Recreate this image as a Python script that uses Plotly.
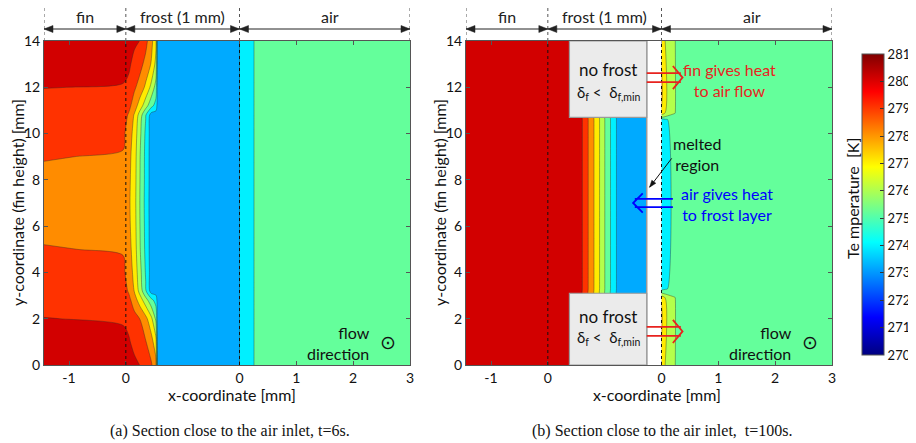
import plotly.graph_objects as go

# ---------------- data ----------------
# Temperature bands (lower bound of each filled contour band) and their fill colours
levels_lo = [270, 271, 272, 273, 274, 275, 276, 277, 278, 279, 280]
band_colors = ["rgb(0,0,143)", "rgb(0,0,220)", "rgb(0,58,255)", "rgb(0,170,255)",
               "rgb(0,240,255)", "rgb(100,255,155)", "rgb(180,255,75)", "rgb(255,235,0)",
               "rgb(255,140,0)", "rgb(255,50,0)", "rgb(210,0,0)"]
cbar_ticks = [270, 271, 272, 273, 274, 275, 276, 277, 278, 279, 280, 281]

# pseudo x-coordinate: fin x -> u = x ; frost depth d (1 mm) -> u = 2d ; air x -> u = 2 + x
x_tickvals = [-1, 0, 2, 3, 4, 5]
x_ticktext = ["-1", "0", "0", "1", "2", "3"]
y_tickvals = [0, 2, 4, 6, 8, 10, 12, 14]
fin_start, frost_start, air_start, air_end = -1.44, 0.0, 2.0, 5.0

# (a) t = 6 s
left_u = [-1.44, -0.05, 0.05, 0.15, 0.25, 0.35, 0.45, 0.53, 0.56, 1.99, 2.01, 2.24, 2.27, 5.0]
left_y = [0, 1, 2, 2.8, 3.2, 4, 5, 6, 7, 8, 9, 10, 10.8, 11.2, 12, 13, 14]
left_T = [
    [280.6, 280.45, 280.4, 280.2, 279.98, 279.55, 279.1, 278.3, 273.5, 273.5, 274.5, 274.5, 275.5, 275.5],
    [280.3, 280.2, 280.1, 279.75, 279.4, 279.05, 278.4, 277.3, 273.5, 273.5, 274.5, 274.5, 275.5, 275.5],
    [280.02, 279.92, 279.75, 279.35, 278.98, 278.3, 277.2, 275.8, 273.5, 273.5, 274.5, 274.5, 275.5, 275.5],
    [279.75, 279.6, 279.3, 278.5, 277.5, 276.4, 275.3, 274.6, 273.5, 273.5, 274.5, 274.5, 275.5, 275.5],
    [279.6, 279.45, 278.9, 277.95, 276.6, 275.1, 273.5, 273.5, 273.5, 273.5, 274.5, 274.5, 275.5, 275.5],
    [279.35, 279.2, 278.6, 277.7, 276.3, 274.9, 273.5, 273.5, 273.5, 273.5, 274.5, 274.5, 275.5, 275.5],
    [279.05, 278.93, 278.4, 277.5, 276.05, 274.75, 273.5, 273.5, 273.5, 273.5, 274.5, 274.5, 275.5, 275.5],
    [278.8, 278.7, 278.25, 277.4, 275.98, 274.7, 273.5, 273.5, 273.5, 273.5, 274.5, 274.5, 275.5, 275.5],
    [278.65, 278.6, 278.2, 277.35, 275.95, 274.65, 273.5, 273.5, 273.5, 273.5, 274.5, 274.5, 275.5, 275.5],
    [278.8, 278.7, 278.25, 277.4, 275.98, 274.7, 273.5, 273.5, 273.5, 273.5, 274.5, 274.5, 275.5, 275.5],
    [279.05, 278.92, 278.35, 277.45, 276.02, 274.7, 273.5, 273.5, 273.5, 273.5, 274.5, 274.5, 275.5, 275.5],
    [279.35, 279.2, 278.6, 277.6, 276.2, 274.8, 273.5, 273.5, 273.5, 273.5, 274.5, 274.5, 275.5, 275.5],
    [279.6, 279.45, 278.9, 277.9, 276.5, 275.05, 273.5, 273.5, 273.5, 273.5, 274.5, 274.5, 275.5, 275.5],
    [279.7, 279.6, 279.3, 278.5, 277.5, 276.4, 275.3, 274.6, 273.5, 273.5, 274.5, 274.5, 275.5, 275.5],
    [280.02, 279.95, 279.8, 279.15, 278.6, 277.8, 276.7, 275.6, 273.5, 273.5, 274.5, 274.5, 275.5, 275.5],
    [280.35, 280.25, 280.15, 279.75, 279.3, 278.7, 277.9, 276.7, 273.5, 273.5, 274.5, 274.5, 275.5, 275.5],
    [280.55, 280.45, 280.4, 280.15, 279.98, 279.3, 278.3, 277.2, 273.5, 273.5, 274.5, 274.5, 275.5, 275.5],
]

# (b) t = 100 s
right_u = [-1.44, -0.05, 0.58, 0.66, 0.76, 0.865, 0.955, 1.05, 1.155, 1.26, 1.74, 2.0, 2.07, 2.24, 2.27, 5.0]
right_y = [0, 2.9, 3.08, 3.3, 10.6, 10.72, 10.9, 14]
right_T = [
    [280.5, 280.5, 280.5, 280.5, 280.5, 280.5, 280.5, 280.5, 280.5, 280.5, 280.5, 277.6, 276.95, 276.05, 275.5, 275.5],
    [280.5, 280.5, 280.5, 280.5, 280.5, 280.5, 280.5, 280.5, 280.5, 280.5, 280.5, 277.6, 276.95, 276.05, 275.5, 275.5],
    [280.5, 280.5, 280.25, 279.5, 278.5, 277.5, 276.5, 275.5, 274.5, 273.5, 273.5, 276.2, 275.9, 275.6, 275.5, 275.5],
    [280.5, 280.5, 280.25, 279.5, 278.5, 277.5, 276.5, 275.5, 274.5, 273.5, 273.5, 274.5, 274.85, 275.5, 275.5, 275.5],
    [280.5, 280.5, 280.25, 279.5, 278.5, 277.5, 276.5, 275.5, 274.5, 273.5, 273.5, 274.5, 274.85, 275.5, 275.5, 275.5],
    [280.5, 280.5, 280.25, 279.5, 278.5, 277.5, 276.5, 275.5, 274.5, 273.5, 273.5, 276.2, 275.9, 275.6, 275.5, 275.5],
    [280.5, 280.5, 280.5, 280.5, 280.5, 280.5, 280.5, 280.5, 280.5, 280.5, 280.5, 277.6, 276.95, 276.05, 275.5, 275.5],
    [280.5, 280.5, 280.5, 280.5, 280.5, 280.5, 280.5, 280.5, 280.5, 280.5, 280.5, 277.6, 276.95, 276.05, 275.5, 275.5],
]
melt_start = 1.74          # left edge of melted (white) region in panel (b)
nofrost_x0 = 0.38          # no-frost boxes
nofrost_top_y0 = 10.7
nofrost_bot_y1 = 3.1

# ---------------- layout helpers ----------------
SANS = "Lato"
SERIF = "Liberation Serif"
OFF = 8                     # page body margin of the html page
W, H = 916 - OFF, 443 - OFF


def px(xp):                 # page pixel x -> paper x
    return (xp - OFF) / W


def py(yp):                 # page pixel y -> paper y
    return 1 - (yp - OFF) / H


LX = [px(44), px(410)]
RX = [px(466), px(832)]
YD = [py(365), py(41)]
SX = 366 / (air_end - fin_start)   # px per unit u
SY = 324 / 14                       # px per mm

contour_scale = [[0, band_colors[0]]] + \
    [[(k - 269) / 12, c] for k, c in zip(levels_lo, band_colors)] + [[1, band_colors[-1]]]
jet_scale = [[0, "rgb(0,0,128)"], [0.125, "rgb(0,0,255)"], [0.375, "rgb(0,255,255)"],
             [0.625, "rgb(255,255,0)"], [0.875, "rgb(255,0,0)"], [1, "rgb(128,0,0)"]]

fig = go.Figure()
common = dict(contours=dict(start=270, end=281, size=1, coloring="fill"),
              colorscale=contour_scale, showscale=False, hoverinfo="skip",
              line=dict(width=0.6, color="rgba(40,40,40,0.65)", smoothing=0.8))
fig.add_trace(go.Contour(x=left_u, y=left_y, z=left_T, xaxis="x", yaxis="y", **common))
fig.add_trace(go.Contour(x=right_u, y=right_y, z=right_T, xaxis="x2", yaxis="y2", **common))

# colorbar (continuous jet)
fig.add_trace(go.Scatter(
    x=[None, None], y=[None, None], mode="markers", xaxis="x2", yaxis="y2",
    showlegend=False, hoverinfo="skip",
    marker=dict(color=[cbar_ticks[0], cbar_ticks[-1]], cmin=cbar_ticks[0], cmax=cbar_ticks[-1],
                colorscale=jet_scale, showscale=True,
                colorbar=dict(x=px(862), xanchor="left", y=py(204.5), yanchor="middle",
                              len=301 / H, lenmode="fraction", thickness=22,
                              outlinewidth=1, outlinecolor="#555", borderwidth=0,
                              tickmode="array", tickvals=cbar_ticks, ticks="inside",
                              ticklen=4, tickcolor="#333", xpad=0, ypad=0,
                              tickfont=dict(family=SANS, size=13, color="#111")))))

axis_common = dict(showgrid=False, zeroline=False, showline=True, linecolor="#555",
                   linewidth=1, mirror="ticks", ticks="inside", ticklen=4,
                   tickcolor="#555", tickfont=dict(family=SANS, size=14, color="#111"),
                   fixedrange=True, automargin=False)
fig.update_layout(
    width=W, height=H, margin=dict(l=0, r=0, t=0, b=0, autoexpand=False),
    paper_bgcolor="white", plot_bgcolor="white", showlegend=False,
    xaxis=dict(domain=LX, range=[fin_start, air_end], anchor="y", tickmode="array",
               tickvals=x_tickvals, ticktext=x_ticktext, **axis_common),
    yaxis=dict(domain=YD, range=[0, 14], anchor="x", tickmode="array",
               tickvals=y_tickvals, **axis_common),
    xaxis2=dict(domain=RX, range=[fin_start, air_end], anchor="y2", tickmode="array",
                tickvals=x_tickvals, ticktext=x_ticktext, **axis_common),
    yaxis2=dict(domain=YD, range=[0, 14], anchor="x2", tickmode="array",
                tickvals=y_tickvals, **axis_common),
)

shapes = []
ann = []
boundaries = [fin_start, frost_start, air_start, air_end]


def label(**kw):
    d = dict(showarrow=False, xanchor="center", yanchor="middle")
    d.update(kw)
    return d


def head(xt, yt, dx, dy, L, hw, sx, sy):
    """filled triangular arrow head, tip at (xt, yt), direction (dx, dy) in screen px (y up)."""
    n = (dx * dx + dy * dy) ** 0.5
    dx, dy = dx / n, dy / n
    bx, by = -dx * L, -dy * L
    p1 = (xt + (bx - dy * hw) / sx, yt + (by + dx * hw) / sy)
    p2 = (xt + (bx + dy * hw) / sx, yt + (by - dx * hw) / sy)
    return f"M {xt},{yt} L {p1[0]},{p1[1]} L {p2[0]},{p2[1]} Z"


# panel (b) melted region and no-frost boxes
shapes.append(dict(type="rect", xref="x2", yref="y2", x0=melt_start, x1=air_start, y0=0, y1=14,
                   fillcolor="white", line=dict(width=0)))
shapes.append(dict(type="line", xref="x2", yref="y2", x0=melt_start, x1=melt_start, y0=0, y1=14,
                   line=dict(color="#9a9a9a", width=1.5)))
for (y0, y1) in [(nofrost_top_y0, 14), (0, nofrost_bot_y1)]:
    shapes.append(dict(type="rect", xref="x2", yref="y2", x0=nofrost_x0, x1=melt_start,
                       y0=y0, y1=y1, fillcolor="#ebebeb", line=dict(color="#9a9a9a", width=1.2)))

arrow_y = py(29)
for xa, ya in [("x", "y"), ("x2", "y2")]:
    # dotted separators above panel
    for b in boundaries:
        shapes.append(dict(type="line", xref=xa, yref="paper", x0=b, x1=b, y0=YD[1], y1=1.0,
                           line=dict(color="#555", width=1, dash="dot")))
    for b in [frost_start, air_start]:
        shapes.append(dict(type="line", xref=xa, yref=ya, x0=b, x1=b, y0=0, y1=14,
                           line=dict(color="#111", width=1, dash="dot")))
    # double arrows and region labels
    for a, b, lab, cx in [(fin_start, frost_start, "fin", -0.72),
                          (frost_start, air_start, "frost (1 mm)", 1.0),
                          (air_start, air_end, "air", 3.6)]:
        shapes.append(dict(type="line", xref=xa, yref="paper", x0=a, x1=b, y0=arrow_y, y1=arrow_y,
                           line=dict(color="#222", width=1)))
        for tip, d in [(a, -1), (b, 1)]:
            shapes.append(dict(type="path", xref=xa, yref="paper",
                               path=head(tip, arrow_y, d, 0, 9, 3.5, SX, H),
                               fillcolor="#222", line=dict(color="#222", width=0.5)))
        ann.append(label(xref=xa, yref="paper", x=cx, y=py(16), text=lab,
                         font=dict(family=SANS, size=16, color="#222")))
    # flow direction
    ann.append(label(xref=xa, yref=ya, x=4.34, y=0.95, xanchor="right", text="flow<br>direction",
                     align="right", font=dict(family=SANS, size=16, color="#111")))
    ann.append(label(xref=xa, yref=ya, x=4.62, y=1.0, text="⊙",
                     font=dict(family="DejaVu Sans", size=19, color="#111")))


def chevron_arrow(tail, tip, ymid, half_gap, head_len, head_half):
    d = 1 if tip > tail else -1
    back = tip - d * head_len
    end = tip - d * 0.03
    return (f"M {tail},{ymid + half_gap} L {end},{ymid + half_gap} "
            f"M {tail},{ymid - half_gap} L {end},{ymid - half_gap} "
            f"M {back},{ymid + head_half} L {tip},{ymid} L {back},{ymid - head_half}")


for ym in [12.42, 1.45]:
    shapes.append(dict(type="path", xref="x2", yref="y2",
                       path=chevron_arrow(melt_start, 2.37, ym, 0.195, 0.17, 0.5),
                       line=dict(color="#e8231f", width=1.8)))
shapes.append(dict(type="path", xref="x2", yref="y2",
                   path=chevron_arrow(2.2, 1.5, 7.0, 0.18, 0.17, 0.42),
                   line=dict(color="#0000ff", width=1.8)))

# "melted region" pointer
m_tail, m_tip = (2.18, 8.93), (1.79, 7.68)
shapes.append(dict(type="line", xref="x2", yref="y2", x0=m_tail[0], y0=m_tail[1],
                   x1=m_tip[0], y1=m_tip[1], line=dict(color="#111", width=1)))
shapes.append(dict(type="path", xref="x2", yref="y2",
                   path=head(m_tip[0], m_tip[1], (m_tip[0] - m_tail[0]) * SX,
                             (m_tip[1] - m_tail[1]) * SY, 7, 2.5, SX, SY),
                   fillcolor="#111", line=dict(color="#111", width=0.5)))

box_cx = (nofrost_x0 + melt_start) / 2
for yt, yd in [(12.78, 11.75), (2.11, 1.15)]:
    ann.append(label(xref="x2", yref="y2", x=box_cx, y=yt, text="no frost",
                     font=dict(family=SANS, size=17, color="#111")))
    ann.append(label(xref="x2", yref="y2", x=box_cx, y=yd,
                     text="δ<sub>f</sub> <  δ<sub>f,min</sub>",
                     font=dict(family=SANS, size=15, color="#111")))

ann.append(label(xref="x2", yref="y2", x=3.2, y=12.3, text="fin gives heat<br>to air flow",
                 font=dict(family=SANS, size=16, color="#e8231f")))
ann.append(label(xref="x2", yref="y2", x=2.64, y=9.13, text="melted<br>region",
                 font=dict(family=SANS, size=16, color="#111")))
ann.append(label(xref="x2", yref="y2", x=3.15, y=6.97, text="air gives heat<br>to frost layer",
                 font=dict(family=SANS, size=16, color="#0000ff")))

# axis titles
for xc in [17, 439]:
    ann.append(label(xref="paper", yref="paper", x=px(xc), y=py(203), textangle=-90,
                     text="y-coordinate (fin height) [mm]",
                     font=dict(family=SANS, size=16, color="#111")))
for xc in [232, 657]:
    ann.append(label(xref="paper", yref="paper", x=px(xc), y=py(394),
                     text="x-coordinate [mm]",
                     font=dict(family=SANS, size=16, color="#111")))
ann.append(label(xref="paper", yref="paper", x=px(852), y=py(199), textangle=-90,
                 text="Te mperature  [K]",
                 font=dict(family=SANS, size=16, color="#111")))

# captions
ann.append(label(xref="paper", yref="paper", x=px(230), y=py(431),
                 text="(a) Section close to the air inlet, t=6s.",
                 font=dict(family=SERIF, size=16, color="#111")))
ann.append(label(xref="paper", yref="paper", x=px(662), y=py(431),
                 text="(b) Section close to the air inlet,  t=100s.",
                 font=dict(family=SERIF, size=16, color="#111")))

fig.update_layout(shapes=shapes, annotations=ann)
fig.write_html("out.html")
